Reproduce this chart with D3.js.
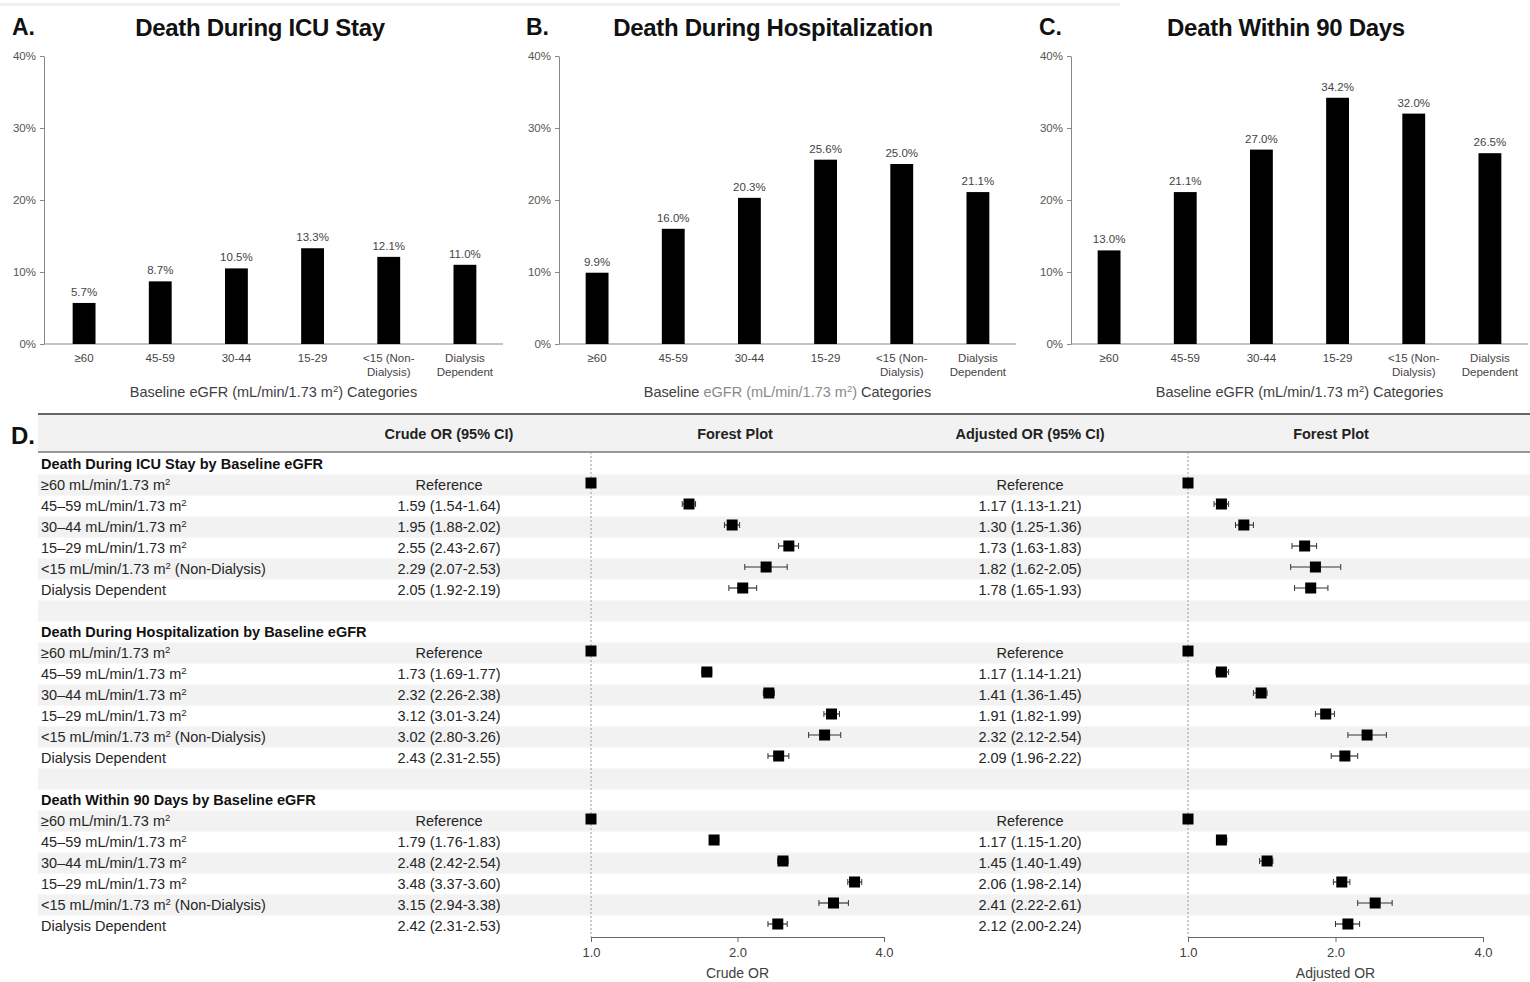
<!DOCTYPE html>
<html>
<head>
<meta charset="utf-8">
<script src="https://cdn.jsdelivr.net/npm/d3@7"></script>
<style>
  html, body { margin: 0; padding: 0; background: #fff; }
  svg { display: block; font-family: "Liberation Sans", Arial, sans-serif; }
</style>
</head>
<body>
<svg id="chart" width="1530" height="982"></svg>
<script>
// ---------------- DATA ----------------
const barCategories = [["≥60"], ["45-59"], ["30-44"], ["15-29"], ["<15 (Non-", "Dialysis)"], ["Dialysis", "Dependent"]];
const yTicks = [0, 10, 20, 30, 40];
const icuPct = [5.7, 8.7, 10.5, 13.3, 12.1, 11.0];
const hospPct = [9.9, 16.0, 20.3, 25.6, 25.0, 21.1];
const day90Pct = [13.0, 21.1, 27.0, 34.2, 32.0, 26.5];
const panelTitles = ["Death During ICU Stay", "Death During Hospitalization", "Death Within 90 Days"];
const panelLetters = ["A.", "B.", "C."];

const rowLabels = [
  ["≥60 mL/min/1.73 m", "2", ""],
  ["45–59 mL/min/1.73 m", "2", ""],
  ["30–44 mL/min/1.73 m", "2", ""],
  ["15–29 mL/min/1.73 m", "2", ""],
  ["<15 mL/min/1.73 m", "2", " (Non-Dialysis)"],
  ["Dialysis Dependent", "", ""]
];
const sectionTitles = [
  "Death During ICU Stay by Baseline eGFR",
  "Death During Hospitalization by Baseline eGFR",
  "Death Within 90 Days by Baseline eGFR"
];
const headerLabels = ["Crude OR (95% CI)", "Forest Plot", "Adjusted OR (95% CI)", "Forest Plot"];

const crudeICU   = [1, 1.59, 1.95, 2.55, 2.29, 2.05];
const crudeICULo = [1, 1.54, 1.88, 2.43, 2.07, 1.92];
const crudeICUHi = [1, 1.64, 2.02, 2.67, 2.53, 2.19];
const adjICU     = [1, 1.17, 1.30, 1.73, 1.82, 1.78];
const adjICULo   = [1, 1.13, 1.25, 1.63, 1.62, 1.65];
const adjICUHi   = [1, 1.21, 1.36, 1.83, 2.05, 1.93];

const crudeHosp   = [1, 1.73, 2.32, 3.12, 3.02, 2.43];
const crudeHospLo = [1, 1.69, 2.26, 3.01, 2.80, 2.31];
const crudeHospHi = [1, 1.77, 2.38, 3.24, 3.26, 2.55];
const adjHosp     = [1, 1.17, 1.41, 1.91, 2.32, 2.09];
const adjHospLo   = [1, 1.14, 1.36, 1.82, 2.12, 1.96];
const adjHospHi   = [1, 1.21, 1.45, 1.99, 2.54, 2.22];

const crude90   = [1, 1.79, 2.48, 3.48, 3.15, 2.42];
const crude90Lo = [1, 1.76, 2.42, 3.37, 2.94, 2.31];
const crude90Hi = [1, 1.83, 2.54, 3.60, 3.38, 2.53];
const adj90     = [1, 1.17, 1.45, 2.06, 2.41, 2.12];
const adj90Lo   = [1, 1.15, 1.40, 1.98, 2.22, 2.00];
const adj90Hi   = [1, 1.20, 1.49, 2.14, 2.61, 2.24];

const orTicks = [1, 2, 4];
const axisTitles = ["Crude OR", "Adjusted OR"];

// ---------------- DRAW ----------------
const svg = d3.select("#chart");
const FONT = '"Liberation Sans", Arial, sans-serif';

// faint top edge
svg.append("rect").attr("x", 0).attr("y", 3).attr("width", 1120).attr("height", 3).attr("fill", "#f0f0f0");

// ---- Bar panels ----
const panelValues = [icuPct, hospPct, day90Pct];
const panelGeom = [
  { axisX: 44, r0: 46, r1: 503, titleX: 260, letterX: 12 },
  { axisX: 559, r0: 559, r1: 1016, titleX: 773, letterX: 526 },
  { axisX: 1071, r0: 1071, r1: 1528, titleX: 1286, letterX: 1039 }
];
const y = d3.scaleLinear().domain([0, 40]).range([344, 56]);

panelValues.forEach((vals, p) => {
  const g = svg.append("g");
  const geo = panelGeom[p];
  const x = d3.scaleBand().domain(d3.range(vals.length)).range([geo.r0, geo.r1]).paddingInner(0.7).paddingOuter(0.35);

  g.append("text").attr("x", geo.letterX).attr("y", 35).attr("font-size", 23).attr("font-weight", "bold")
    .attr("fill", "#111").text(panelLetters[p]);
  g.append("text").attr("x", geo.titleX).attr("y", 36).attr("text-anchor", "middle").attr("font-size", 24)
    .attr("font-weight", "bold").attr("fill", "#111").attr("letter-spacing", -0.3).text(panelTitles[p]);

  // y axis
  const yAxis = d3.axisLeft(y).tickValues(yTicks).tickFormat(d => d + "%").tickSize(4).tickSizeOuter(0).tickPadding(4);
  const ya = g.append("g").attr("transform", `translate(${geo.axisX},0)`).call(yAxis);
  ya.select(".domain").attr("stroke", "#888");
  ya.selectAll(".tick line").attr("stroke", "#888");
  ya.selectAll(".tick text").attr("font-family", FONT).attr("font-size", 11.5).attr("fill", "#555");

  // x axis line
  const xAxis = d3.axisBottom(x).tickSize(0).tickFormat("");
  const xa = g.append("g").attr("transform", `translate(0,344)`).call(xAxis);
  xa.select(".domain").attr("stroke", "#888").attr("d", `M${geo.axisX},0H${geo.r1}`);

  // bars
  g.selectAll("rect.bar").data(vals).join("rect").attr("class", "bar")
    .attr("x", (d, i) => x(i)).attr("width", x.bandwidth())
    .attr("y", d => y(d)).attr("height", d => y(0) - y(d)).attr("fill", "#000");

  // value labels
  g.selectAll("text.val").data(vals).join("text").attr("class", "val")
    .attr("x", (d, i) => x(i) + x.bandwidth() / 2).attr("y", d => y(d) - 7)
    .attr("text-anchor", "middle").attr("font-size", 11.5).attr("fill", "#444")
    .text(d => d.toFixed(1) + "%");

  // category labels
  barCategories.forEach((lines, i) => {
    const t = g.append("text").attr("text-anchor", "middle").attr("font-size", 11.5).attr("fill", "#444");
    lines.forEach((ln, k) => {
      t.append("tspan").attr("x", x(i) + x.bandwidth() / 2).attr("y", 362 + k * 14).text(ln);
    });
  });

  // axis title
  const cx = (geo.axisX + geo.r1) / 2;
  const at = g.append("text").attr("x", cx).attr("y", 397).attr("text-anchor", "middle").attr("font-size", 14.5).attr("fill", "#404040");
  const light = p === 1 ? "#8a8a8a" : "#404040";
  at.append("tspan").text("Baseline ");
  at.append("tspan").attr("fill", light).text("eGFR (mL/min/1.73 m");
  at.append("tspan").attr("fill", light).attr("font-size", 9.5).attr("dy", -5).text("2");
  at.append("tspan").attr("fill", light).attr("dy", 5).text(")");
  at.append("tspan").text(" Categories");
});

// ---- Panel D: table + forest plots ----
const D = svg.append("g");
const tableL = 38, tableR = 1530;
const rowH = 21, firstRowY = 464;

const sections = [
  { title: sectionTitles[0], c: crudeICU, cl: crudeICULo, ch: crudeICUHi, a: adjICU, al: adjICULo, ah: adjICUHi },
  { title: sectionTitles[1], c: crudeHosp, cl: crudeHospLo, ch: crudeHospHi, a: adjHosp, al: adjHospLo, ah: adjHospHi },
  { title: sectionTitles[2], c: crude90, cl: crude90Lo, ch: crude90Hi, a: adj90, al: adj90Lo, ah: adj90Hi }
];

const rows = [];
sections.forEach((s, si) => {
  rows.push({ type: "title", text: s.title });
  rowLabels.forEach((lab, i) => rows.push({ type: "data", label: lab, s, i }));
  if (si < sections.length - 1) rows.push({ type: "blank" });
});
const rowY = i => firstRowY + i * rowH;

// stripes
rows.forEach((r, i) => {
  if (i % 2 === 1) {
    D.append("rect").attr("x", tableL).attr("y", rowY(i) - rowH / 2).attr("width", tableR - tableL).attr("height", rowH).attr("fill", "#f2f2f2");
  }
});

// header
D.append("rect").attr("x", tableL).attr("y", 414).attr("width", tableR - tableL).attr("height", 38).attr("fill", "#f2f2f2");
D.append("line").attr("x1", tableL).attr("x2", tableR).attr("y1", 414).attr("y2", 414).attr("stroke", "#666").attr("stroke-width", 2);
D.append("line").attr("x1", tableL).attr("x2", tableR).attr("y1", 452).attr("y2", 452).attr("stroke", "#777").attr("stroke-width", 1.5);
D.append("text").attr("x", 11).attr("y", 444).attr("font-size", 24).attr("font-weight", "bold").attr("fill", "#111").text("D.");
const headerX = [449, 735, 1030, 1331];
headerLabels.forEach((h, i) => {
  D.append("text").attr("x", headerX[i]).attr("y", 439).attr("text-anchor", "middle").attr("font-size", 14.5)
    .attr("font-weight", "bold").attr("fill", "#222").text(h);
});

// scales
const xC = d3.scaleLog().base(2).domain([1, 4]).range([591, 884]);
const xA = d3.scaleLog().base(2).domain([1, 4]).range([1188, 1483]);
const axisY = 937;

// reference dotted lines
[xC, xA].forEach(sc => {
  D.append("line").attr("x1", sc(1)).attr("x2", sc(1)).attr("y1", 452).attr("y2", axisY)
    .attr("stroke", "#999").attr("stroke-width", 1).attr("stroke-dasharray", "2,2");
});

const fmt = v => v.toFixed(2);
rows.forEach((r, i) => {
  const yy = rowY(i);
  if (r.type === "title") {
    D.append("text").attr("x", 41).attr("y", yy + 5).attr("font-size", 14.5).attr("font-weight", "bold").attr("fill", "#111").text(r.text);
  } else if (r.type === "data") {
    const t = D.append("text").attr("x", 41).attr("y", yy + 5).attr("font-size", 14.5).attr("fill", "#262626");
    t.append("tspan").text(r.label[0]);
    if (r.label[1]) {
      t.append("tspan").attr("font-size", 9.5).attr("dy", -5).text(r.label[1]);
      if (r.label[2]) t.append("tspan").attr("dy", 5).text(r.label[2]);
    }
    const s = r.s, k = r.i;
    const crudeTxt = k === 0 ? "Reference" : `${fmt(s.c[k])} (${fmt(s.cl[k])}-${fmt(s.ch[k])})`;
    const adjTxt = k === 0 ? "Reference" : `${fmt(s.a[k])} (${fmt(s.al[k])}-${fmt(s.ah[k])})`;
    D.append("text").attr("x", 449).attr("y", yy + 5).attr("text-anchor", "middle").attr("font-size", 14.5).attr("fill", "#262626").text(crudeTxt);
    D.append("text").attr("x", 1030).attr("y", yy + 5).attr("text-anchor", "middle").attr("font-size", 14.5).attr("fill", "#262626").text(adjTxt);

    // forest marks
    [[xC, s.c[k], s.cl[k], s.ch[k]], [xA, s.a[k], s.al[k], s.ah[k]]].forEach(([sc, v, lo, hi]) => {
      const fy = yy - 2;
      if (hi > lo) {
        D.append("line").attr("x1", sc(lo)).attr("x2", sc(hi)).attr("y1", fy).attr("y2", fy).attr("stroke", "#333").attr("stroke-width", 1.2);
        [lo, hi].forEach(e => D.append("line").attr("x1", sc(e)).attr("x2", sc(e)).attr("y1", fy - 3).attr("y2", fy + 3).attr("stroke", "#333").attr("stroke-width", 1));
      }
      D.append("rect").attr("x", sc(v) - 5.5).attr("y", fy - 5.5).attr("width", 11).attr("height", 11).attr("fill", "#000");
    });
  }
});

// forest axes
[[xC, axisTitles[0]], [xA, axisTitles[1]]].forEach(([sc, title]) => {
  const ax = d3.axisBottom(sc).tickValues(orTicks).tickFormat(d => d.toFixed(1)).tickSize(5).tickSizeOuter(0).tickPadding(6);
  const ag = D.append("g").attr("transform", `translate(0,${axisY})`).call(ax);
  ag.select(".domain").attr("stroke", "#666");
  ag.selectAll(".tick line").attr("stroke", "#666");
  ag.selectAll(".tick text").attr("font-family", FONT).attr("font-size", 13).attr("fill", "#404040");
  const [r0, r1] = sc.range();
  D.append("text").attr("x", (r0 + r1) / 2).attr("y", 978).attr("text-anchor", "middle").attr("font-size", 14).attr("fill", "#404040").text(title);
});
</script>
</body>
</html>
